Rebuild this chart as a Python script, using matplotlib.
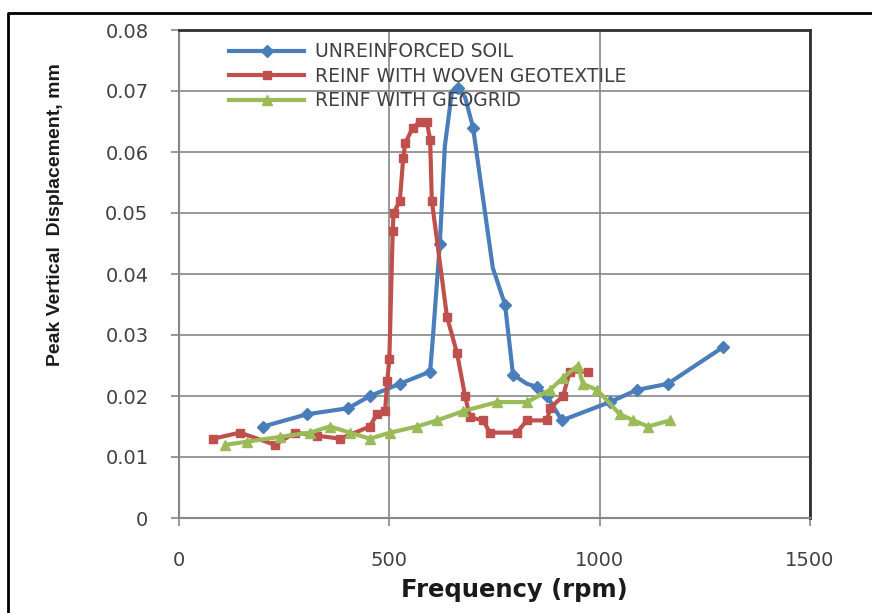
import matplotlib
matplotlib.use("Agg")
import matplotlib.pyplot as plt
from matplotlib.lines import Line2D

# Frequency (rpm) / peak vertical displacement (mm)
unreinf_x = [200, 304, 402, 454, 525, 597, 604, 620, 632, 649, 663, 680, 699, 746, 775, 794, 827,
             851, 875, 910, 1024, 1089, 1162, 1293]
unreinf_y = [0.015, 0.017, 0.018, 0.020, 0.022, 0.024, 0.030, 0.045, 0.061, 0.070, 0.0705, 0.069,
             0.064, 0.041, 0.035, 0.0235, 0.022, 0.0215, 0.020, 0.016, 0.019, 0.021, 0.022, 0.028]
# which of the blue readings carry a diamond marker
unreinf_marked = [0, 1, 2, 3, 4, 5, 7, 10, 12, 14, 15, 17, 18, 19, 20, 21, 22, 23]

woven_x = [81, 145, 228, 276, 328, 383, 454, 470, 490, 495, 500, 508, 510, 525, 533, 538, 556, 573,
           589, 597, 601, 637, 661, 680, 692, 723, 739, 803, 827, 875, 882, 913, 929, 972]
woven_y = [0.013, 0.014, 0.012, 0.014, 0.0135, 0.013, 0.015, 0.017, 0.0175, 0.0225, 0.026, 0.047,
           0.050, 0.052, 0.059, 0.0615, 0.064, 0.065, 0.065, 0.062, 0.052, 0.033, 0.027, 0.020,
           0.0165, 0.016, 0.014, 0.014, 0.016, 0.016, 0.018, 0.020, 0.024, 0.024]

geogrid_x = [110, 161, 240, 311, 359, 406, 454, 502, 566, 613, 675, 756, 827, 882, 913, 948, 960, 994,
             1048, 1080, 1115, 1167]
geogrid_y = [0.012, 0.0125, 0.0133, 0.014, 0.015, 0.014, 0.013, 0.014, 0.015, 0.016, 0.0175, 0.019,
             0.019, 0.021, 0.023, 0.025, 0.022, 0.021, 0.017, 0.016, 0.015, 0.016]

labels = ["UNREINFORCED SOIL", "REINF WITH WOVEN GEOTEXTILE", "REINF WITH GEOGRID"]
x_ticks = [0, 500, 1000, 1500]
y_ticks = [0, 0.01, 0.02, 0.03, 0.04, 0.05, 0.06, 0.07, 0.08]

BLUE = "#4a7ebb"
RED = "#c0504d"
GREEN = "#9bbb59"
GRID = "#868686"
TXT = "#404040"

fig = plt.figure(figsize=(8.72, 6.13), dpi=100)
ax = fig.add_axes([179 / 872, 1 - 518 / 613, (810 - 179) / 872, (518 - 30) / 613])

ax.plot(unreinf_x, unreinf_y, color=BLUE, lw=3, marker="D", ms=6, markevery=unreinf_marked,
        label=labels[0], zorder=3, solid_joinstyle="round")
ax.plot(woven_x, woven_y, color=RED, lw=3, marker="s", ms=6, label=labels[1], zorder=3,
        solid_joinstyle="round")
ax.plot(geogrid_x, geogrid_y, color=GREEN, lw=3, marker="^", ms=7, label=labels[2], zorder=3,
        solid_joinstyle="round")

ax.set_xlim(0, 1500)
ax.set_ylim(0, 0.08)
ax.set_xticks(x_ticks)
ax.set_yticks(y_ticks)
ax.set_xticklabels([str(t) for t in x_ticks])
ax.set_yticklabels(["0"] + [f"{t:.2f}" for t in y_ticks[1:]])
ax.grid(True, color=GRID, lw=1.2)
ax.set_axisbelow(True)

ax.tick_params(axis="both", direction="out", length=6, width=1.2, color=GRID,
               labelsize=14, labelcolor=TXT)
ax.tick_params(axis="x", pad=18)
ax.tick_params(axis="y", pad=16)
for side in ["left", "bottom"]:
    ax.spines[side].set_color(GRID)
    ax.spines[side].set_linewidth(1.5)
for side in ["top", "right"]:
    ax.spines[side].set_color("#303030")
    ax.spines[side].set_linewidth(2)

leg = ax.legend(loc="upper left", bbox_to_anchor=(0.06, 1.0), frameon=False, fontsize=13.5,
                handlelength=4.0, handletextpad=0.6, labelspacing=0.3, borderaxespad=0.25)
for t in leg.get_texts():
    t.set_color(TXT)

fig.text(55 / 872, 1 - 215 / 613, "Peak Vertical  Displacement, mm", rotation=90,
         ha="center", va="center", fontsize=14, fontweight="bold",
         family=["Liberation Sans", "DejaVu Sans"], color="#1a1a1a")
fig.text(514 / 872, 1 - 590 / 613, "Frequency (rpm)", ha="center", va="center",
         fontsize=17.5, fontweight="bold", color="#1a1a1a")

# outer frame (only top and left edges visible in the original crop)
fig.add_artist(Line2D([8 / 872, 8 / 872, 1.0], [0.0, 1 - 13 / 613, 1 - 13 / 613],
                      transform=fig.transFigure, color="black", lw=2))

fig.savefig("out.png", dpi=100)
